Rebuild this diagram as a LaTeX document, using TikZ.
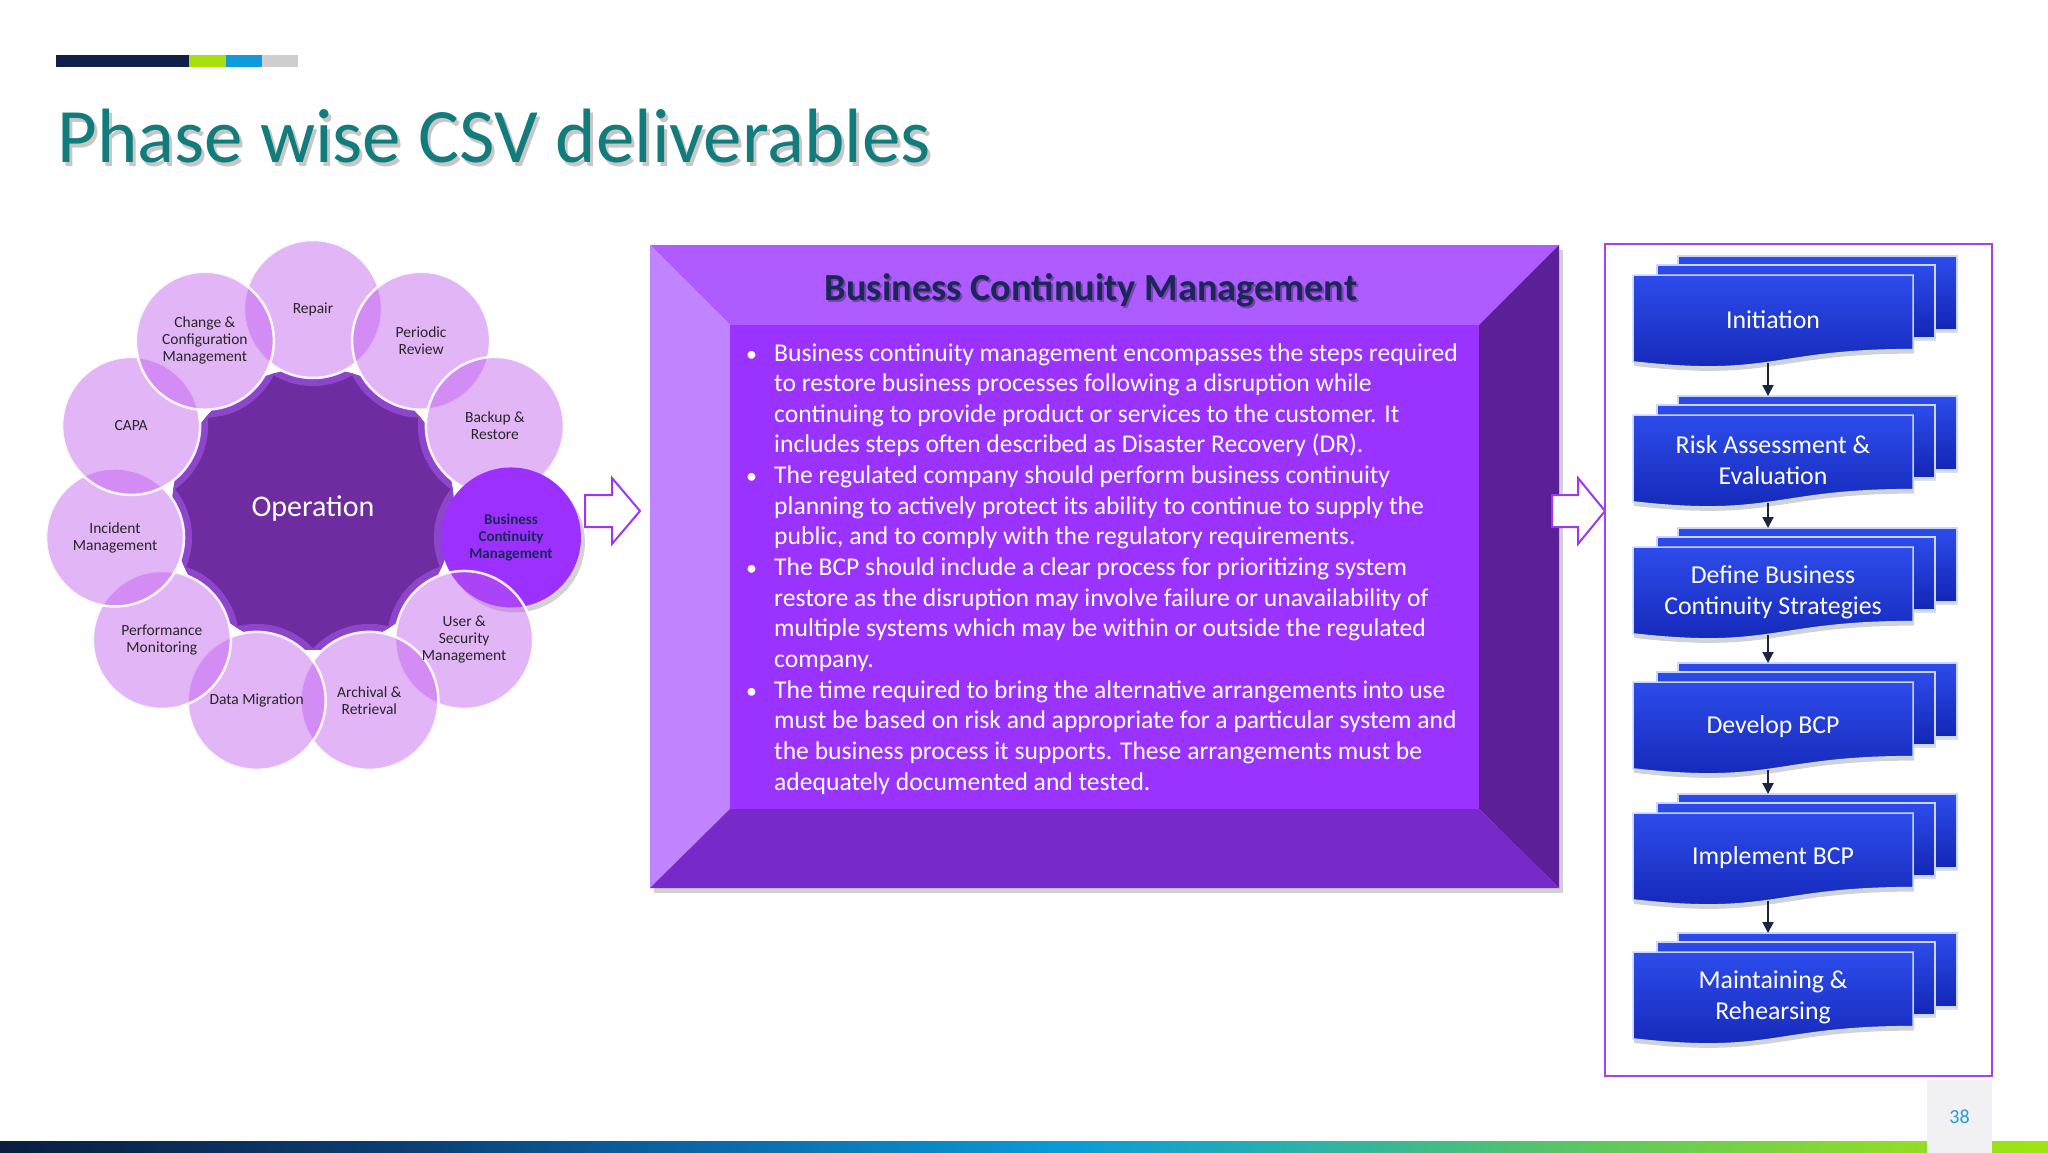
\documentclass[tikz,border=0pt]{standalone}
\usepackage{fontspec}
\setmainfont{Carlito}
\usetikzlibrary{arrows.meta,shadows}
\definecolor{navy}{HTML}{0F2149}
\definecolor{tlime}{HTML}{A6E00F}
\definecolor{tblue}{HTML}{0E9ADB}
\definecolor{tgray}{HTML}{CFCFCF}
\definecolor{teal}{HTML}{117C7B}
\definecolor{opdark}{HTML}{6F2CA0}
\definecolor{ophalo}{HTML}{8D45CB}
\definecolor{ocfill}{HTML}{BF5BEF}
\definecolor{bcmfill}{HTML}{9B30FF}
\definecolor{octext}{HTML}{262626}
\definecolor{btop}{HTML}{AE5CFF}
\definecolor{bleft}{HTML}{C184FF}
\definecolor{bright}{HTML}{5C1F97}
\definecolor{bbottom}{HTML}{7829C9}
\definecolor{binner}{HTML}{9A33FF}
\definecolor{bcmtitle}{HTML}{1B2757}
\definecolor{hollow}{HTML}{9B38F5}
\definecolor{panel}{HTML}{A442F2}
\definecolor{docA}{HTML}{2D4CEB}
\definecolor{docB}{HTML}{1326B5}
\definecolor{docedge}{HTML}{C9D6FF}
\definecolor{flow}{HTML}{1B2541}
\definecolor{pnum}{HTML}{2B9BD6}
\definecolor{pbox}{HTML}{F1F1F4}
\definecolor{barA}{HTML}{0A1E40}
\definecolor{barB}{HTML}{0A3F73}
\definecolor{barC}{HTML}{0B66A6}
\definecolor{barD}{HTML}{0A9BD8}
\definecolor{barE}{HTML}{2CB2A8}
\definecolor{barF}{HTML}{5EC75E}
\definecolor{barG}{HTML}{8EDB2C}
\definecolor{barH}{HTML}{9FE50D}
\pgfdeclarehorizontalshading{barshade}{100bp}{color(0bp)=(barA); color(25bp)=(barA); color(35bp)=(barB); color(42bp)=(barC); color(51bp)=(barD); color(57bp)=(barE); color(64bp)=(barF); color(71bp)=(barG); color(75bp)=(barH); color(100bp)=(barH)}

\newcommand{\mdocshape}[3]{%
\begin{scope}[shift={(1633,#1)}]
  \path[docfill, drop shadow={opacity=0.25, shadow xshift=1pt, shadow yshift=-3pt}] (45,-19) rectangle (324,55);
  \path[docfill, drop shadow={opacity=0.25, shadow xshift=1pt, shadow yshift=-3pt}] (24,-10) rectangle (302,63);
  \path[docfill, drop shadow={opacity=0.35, shadow xshift=1pt, shadow yshift=-4pt}] (0,0) -- (280,0) -- (280,74.6) .. controls (140,74.6) and (140,103) .. (0,86.9) -- cycle;
  \node[doctext] (#2) at (140,45) {#3};
  \coordinate (#2b) at (135,88);
  \coordinate (#2t) at (135,-19);
\end{scope}}

\begin{document}
\begin{tikzpicture}[x=1pt,y=-1pt,
  oc/.style={circle, minimum size=138pt, inner sep=0pt, fill=ocfill, fill opacity=0.45, draw=white, draw opacity=0.9, line width=2.5pt},
  bcmc/.style={circle, minimum size=140pt, inner sep=0pt, fill=bcmfill, drop shadow={opacity=0.35, shadow xshift=4pt, shadow yshift=-5pt}},
  ctext/.style={align=center, text=octext, font=\fontsize{15.5}{17}\selectfont, inner sep=0pt},
  bctext/.style={align=center, text=bcmtitle, font=\fontsize{15}{17}\selectfont\bfseries, inner sep=0pt},
  bullettext/.style={anchor=base west, text=white, font=\fontsize{25.6}{30}\selectfont, inner sep=0pt},
  docfill/.style={top color=docA, bottom color=docB, draw=docedge, line width=1.5pt},
  doctext/.style={align=center, text=white, font=\fontsize{25.8}{31}\selectfont, inner sep=0pt},
  flowarrow/.style={draw=flow, line width=2pt, -{Triangle[length=11pt,width=11pt]}},
  hollowarrow/.style={draw=hollow, fill=white, line width=2pt, line join=miter}
]
\useasboundingbox (0,0) rectangle (2048,1153);
\fill[white] (0,0) rectangle (2048,1153);

% top colour bar
\fill[navy] (56,55) rectangle (189,67);
\fill[tlime] (189,55) rectangle (226,67);
\fill[tblue] (226,55) rectangle (262,67);
\fill[tgray] (262,55) rectangle (298,67);

% title
\node[anchor=base west, inner sep=0pt, text=black, text opacity=0.22, font=\fontsize{77}{92}\selectfont] (titleshadow) at (60,167) {Phase wise CSV deliverables};
\node[anchor=base west, inner sep=0pt, text=teal, font=\fontsize{77}{92}\selectfont] (title) at (57,163) {Phase wise CSV deliverables};

% ---------- circle diagram ----------
\node[circle, fill=opdark, minimum size=282pt, inner sep=0pt] (op) at (313,509) {};
\begin{scope}
  \clip (313,509) circle[radius=141];
  \begin{scope}[shift={(313,509)}]
    \foreach \a in {90,57.27,24.55,-8.18,-40.91,-73.64,-106.36,-139.09,-171.82,155.45,122.73}
      \fill[ophalo] (-\a:200) circle[radius=77];
  \end{scope}
\end{scope}
\node[text=white, font=\fontsize{30}{35}\selectfont, inner sep=0pt] (optext) at (313,509) {Operation};

\begin{scope}[shift={(313,509)}]
  \foreach \a in {90,57.27,24.55,-40.91,-73.64,-106.36,-139.09,-171.82,155.45,122.73}
    \fill[white] (-\a:200) circle[radius=69];
  \node[oc] (c1) at (-90:200) {};
  \node[oc] (c2) at (-57.27:200) {};
  \node[oc] (c3) at (-24.55:200) {};
  \node[bcmc] (c4) at (8.18:200) {};
  \node[oc] (c5) at (40.91:200) {};
  \node[oc] (c6) at (73.64:200) {};
  \node[oc] (c7) at (106.36:200) {};
  \node[oc] (c8) at (139.09:200) {};
  \node[oc] (c9) at (171.82:200) {};
  \node[oc] (c10) at (-155.45:200) {};
  \node[oc] (c11) at (-122.73:200) {};
\end{scope}
\node[ctext] (t1) at (c1) {Repair};
\node[ctext] (t2) at (c2) {Periodic\\Review};
\node[ctext] (t3) at (c3) {Backup \&\\Restore};
\node[bctext] (t4) at (c4) {Business\\Continuity\\Management};
\node[ctext] (t5) at (c5) {User \&\\Security\\Management};
\node[ctext] (t6) at (c6) {Archival \&\\Retrieval};
\node[ctext] (t7) at (c7) {Data Migration};
\node[ctext] (t8) at (c8) {Performance\\Monitoring};
\node[ctext] (t9) at (c9) {Incident\\Management};
\node[ctext] (t10) at (c10) {CAPA};
\node[ctext] (t11) at (c11) {Change \&\\Configuration\\Management};

% ---------- bevelled box ----------
\fill[black, opacity=0.18] (654,250) rectangle (1563,893);
\fill[btop] (650,245) -- (1559,245) -- (1479,325) -- (730,325) -- cycle;
\fill[bleft] (650,245) -- (730,325) -- (730,809) -- (650,888) -- cycle;
\fill[bright] (1559,245) -- (1559,888) -- (1479,809) -- (1479,325) -- cycle;
\fill[bbottom] (650,888) -- (730,809) -- (1479,809) -- (1559,888) -- cycle;
\fill[binner] (730,325) rectangle (1479,809);

% hollow arrows
\draw[hollowarrow] (585,495) -- (612,495) -- (612,478) -- (640,511) -- (612,544) -- (612,527) -- (585,527) -- cycle;
\draw[hollowarrow] (1552,495) -- (1578,495) -- (1578,478) -- (1605,511) -- (1578,544) -- (1578,527) -- (1552,527) -- cycle;

\node[text=black, text opacity=0.3, font=\fontsize{38.3}{45}\selectfont\bfseries, inner sep=0pt] (bcmtitleshadow) at (1093,292) {Business Continuity Management};
\node[text=bcmtitle, font=\fontsize{38.3}{45}\selectfont\bfseries, inner sep=0pt] (bcmheading) at (1091,290) {Business Continuity Management};

\node[bullettext, font=\fontsize{22}{30}\selectfont] (b1) at (746,361) {•};
\node[bullettext] (l1) at (774,361) {Business continuity management encompasses the steps required};
\node[bullettext] (l2) at (774,391.6) {to restore business processes following a disruption while};
\node[bullettext] (l3) at (774,422.3) {continuing to provide product or services to the customer. It};
\node[bullettext] (l4) at (774,452.9) {includes steps often described as Disaster Recovery (DR).};
\node[bullettext, font=\fontsize{22}{30}\selectfont] (b2) at (746,483.6) {•};
\node[bullettext] (l5) at (774,483.6) {The regulated company should perform business continuity};
\node[bullettext] (l6) at (774,514.2) {planning to actively protect its ability to continue to supply the};
\node[bullettext] (l7) at (774,544.8) {public, and to comply with the regulatory requirements.};
\node[bullettext, font=\fontsize{22}{30}\selectfont] (b3) at (746,575.5) {•};
\node[bullettext] (l8) at (774,575.5) {The BCP should include a clear process for prioritizing system};
\node[bullettext] (l9) at (774,606.1) {restore as the disruption may involve failure or unavailability of};
\node[bullettext] (l10) at (774,636.8) {multiple systems which may be within or outside the regulated};
\node[bullettext] (l11) at (774,667.4) {company.};
\node[bullettext, font=\fontsize{22}{30}\selectfont] (b4) at (746,698) {•};
\node[bullettext] (l12) at (774,698) {The time required to bring the alternative arrangements into use};
\node[bullettext] (l13) at (774,728.7) {must be based on risk and appropriate for a particular system and};
\node[bullettext] (l14) at (774,759.3) {the business process it supports. These arrangements must be};
\node[bullettext] (l15) at (774,790) {adequately documented and tested.};

% ---------- right panel ----------
\draw[panel, line width=2.5pt] (1605,244) rectangle (1992,1076);
\mdocshape{275}{d1}{Initiation}
\mdocshape{415}{d2}{Risk Assessment \&\\Evaluation}
\mdocshape{547}{d3}{Define Business\\Continuity Strategies}
\mdocshape{682}{d4}{Develop BCP}
\mdocshape{813}{d5}{Implement BCP}
\mdocshape{952}{d6}{Maintaining \&\\Rehearsing}
\draw[flowarrow] (d1b) -- (d2t);
\draw[flowarrow] (d2b) -- (d3t);
\draw[flowarrow] (d3b) -- (d4t);
\draw[flowarrow] (d4b) -- (d5t);
\draw[flowarrow] (d5b) -- (d6t);

% ---------- footer ----------
\shade[shading=barshade] (0,1141) rectangle (2048,1153);
\fill[pbox] (1927,1080) rectangle (1992,1153);
\node[text=pnum, font=\fontsize{20}{24}\selectfont, inner sep=0pt] (pagenum) at (1959.5,1117) {38};
\end{tikzpicture}
\end{document}
